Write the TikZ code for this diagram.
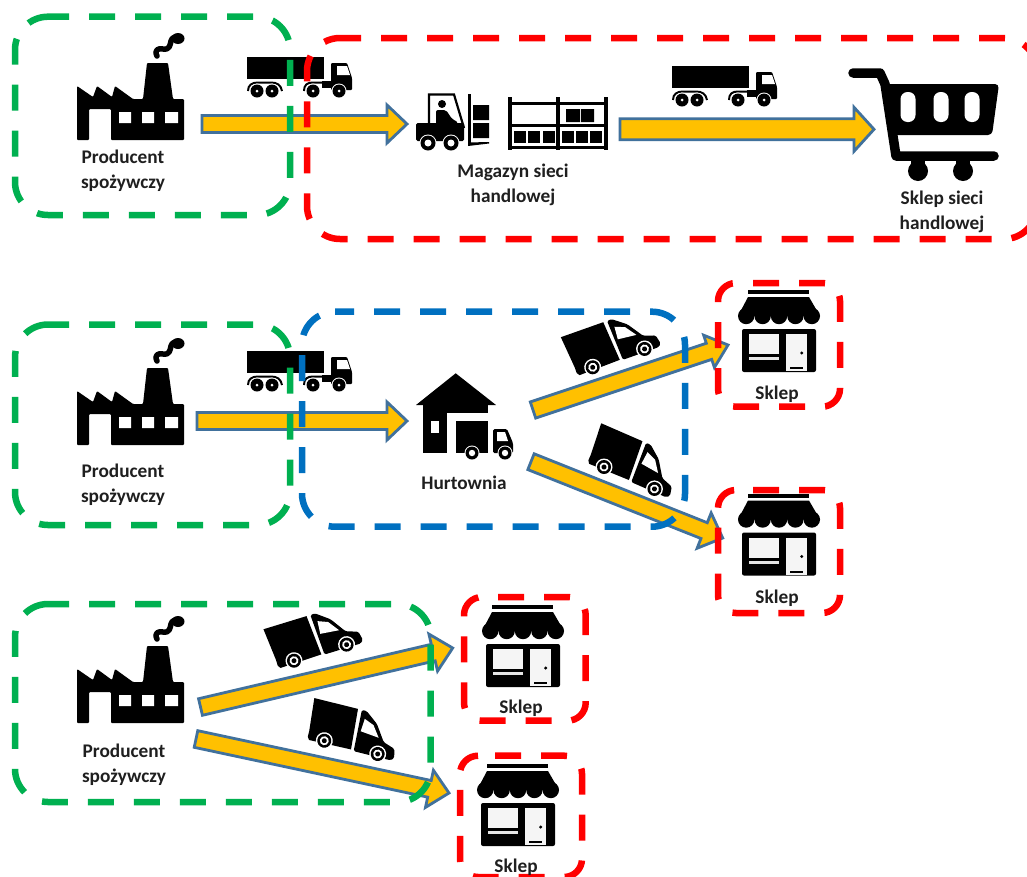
\documentclass[tikz,border=0pt]{standalone}
\usepackage{fontspec}
\setmainfont{Carlito}
\usetikzlibrary{calc}
\definecolor{gframe}{HTML}{00B050}
\definecolor{bframe}{HTML}{0070C0}
\definecolor{rframe}{HTML}{FF0000}
\definecolor{arrfill}{HTML}{FFC000}
\definecolor{arrline}{HTML}{41719C}
\tikzset{
  frameline/.style={line width=6.5pt,dash pattern=on 26pt off 20pt},
  blockarr/.style={draw=arrline,fill=arrfill,line width=2.8pt,line join=miter},
  lbl/.style={font=\bfseries\fontsize{19.3}{25}\selectfont,align=center,text=black!88,inner sep=0pt},
  factoryicon/.pic={\begin{scope}[shift={(-77,-33)}]
    \fill[black,rounded corners=1pt] (77,86) -- (93,97) -- (97,86) -- (112,97) -- (115,86) -- (133,99) -- (143,99) -- (147,63) -- (168,63) -- (173,99) -- (184,99) -- (184,140) -- (111,140) -- (111,109) -- (89,109) -- (89,140) -- (77,140) -- cycle;
    \fill[white] (119,112) rectangle (131,123) (142,112) rectangle (154,123) (165,112) rectangle (178,123);
    \draw[black,line width=5.5pt,line cap=round,line join=round] (157,56) .. controls (154,50) and (158,48) .. (163,49) .. controls (170,50) and (170,45) .. (171,41) .. controls (172,37) and (176,36) .. (180,38);
    \fill[black] (178,38.5) ellipse (6.5 and 5.5);
  \end{scope}},
  truckicon/.pic={\begin{scope}[shift={(-247,-57)}]
    \fill[black] (247,57) rectangle (324,79);
    \fill[black] (322,81) rectangle (352,88);
    \fill[black,rounded corners=1pt] (331,63) -- (347,63) -- (352,78) -- (352,90) -- (331,90) -- cycle;
    \fill[white] (337,66) -- (347,66) -- (350,75) -- (337,75) -- cycle;
    \draw[black,line width=2pt] (248,91) .. controls (248,85) and (252,82.5) .. (258,82.5) -- (271,82.5) .. controls (277,82.5) and (281,85) .. (282,91);
    \draw[black,line width=2pt] (304,91) .. controls (304,85) and (307,82.5) .. (313,82.5) -- (331,82.5);
    \foreach \wx in {257,272,313,339}{
      \fill[white] (\wx,91) circle (7.5);
      \fill[black] (\wx,91) circle (6.5);
      \fill[white] (\wx,91) circle (1.5);
    }
  \end{scope}},
  vanicon/.pic={
    \fill[black] (-20,-39) -- (25,-39) -- (28,2) -- (-15,3) -- (-17,0) -- (-17,-6) -- cycle;
    \fill[black,rounded corners=1.5pt] (29,-39) -- (34,-39) -- (47,-29) -- (58,-13) -- (70,-9) -- (72,0) -- (69,3) -- (31,3) -- cycle;
    \fill[white] (33,-18) -- (52,-16) -- (44,-27) -- (34,-31) -- cycle;
    \foreach \wx in {0,55}{
      \fill[white] (\wx,0) circle (8.5);
      \fill[black] (\wx,0) circle (7);
      \fill[white] (\wx,0) circle (4.5);
      \fill[black] (\wx,0) circle (2.5);
    }
  },
  shopicon/.pic={\begin{scope}[shift={(-738,-289)}]
    \fill[black] (748,290) rectangle (809,294);
    \fill[black] (748,297) -- (809,297) -- (820,316) -- (738,316) -- cycle;
    \foreach \cx in {746.2,762.6,779,795.4,811.8}{\fill[black] (\cx,316) circle (8.2);}
    \fill[black,rounded corners=2pt] (742,329) rectangle (816,372);
    \fill[white!96!black] (749,334) rectangle (779,354);
    \fill[white!90!black] (749,357) rectangle (779,360);
    \fill[white!96!black] (786,334) rectangle (807,371);
    \fill[black] (801.7,353) circle (1.7);
    \fill[black] (790,367) rectangle (803,369);
  \end{scope}},
}
% block arrow between two named points
\newcommand\blockarrow[4]{% from, to, shaft half width, head half width
  \coordinate (hb) at ($(#2)!20pt!(#1)$);
  \draw[blockarr] ($(#1)!#3!90:(#2)$) -- ($(hb)!#3!90:(#2)$) -- ($(hb)!#4!90:(#2)$) -- (#2) -- ($(hb)!#4!-90:(#2)$) -- ($(hb)!#3!-90:(#2)$) -- ($(#1)!#3!-90:(#2)$) -- cycle;
}
% dashed rounded frame: colour, x0, y0, x1, y1, radius, dash phase
\newcommand\dashframe[7]{%
  \draw[#1,frameline,dash phase=#7pt]
    ({#2+#6},#3) -- ({#4-#6},#3)
    .. controls ({#4-0.45*#6},#3) and (#4,{#3+0.45*#6}) .. (#4,{#3+#6})
    -- (#4,{#5-#6})
    .. controls (#4,{#5-0.45*#6}) and ({#4-0.45*#6},#5) .. ({#4-#6},#5)
    -- ({#2+#6},#5)
    .. controls ({#2+0.45*#6},#5) and (#2,{#5-0.45*#6}) .. (#2,{#5-#6})
    -- (#2,{#3+#6})
    .. controls (#2,{#3+0.45*#6}) and ({#2+0.45*#6},#3) .. ({#2+#6},#3);
}
\begin{document}
\begin{tikzpicture}[x=1pt,y=-1pt]
\useasboundingbox (0,0) rectangle (1027,876);
\fill[white] (0,0) rectangle (1027,876);

% --- icons
\pic (fa) at (77,33) {factoryicon};
\pic (fb) at (77,338) {factoryicon};
\pic (fc) at (77,616) {factoryicon};
\pic (ta) at (247,57) {truckicon};
\pic (tb) at (672,66) {truckicon};
\pic (tc) at (247,351) {truckicon};
\pic[rotate=19.5] (va) at (592.7,367.3) {vanicon};
\pic[rotate=-23.5] (vb) at (604,467) {vanicon};
\pic[rotate=17] (vc) at (294,660.7) {vanicon};
\pic[rotate=-14] (vd) at (324.3,740.7) {vanicon};
\pic (sa) at (738,289) {shopicon};
\pic (sb) at (738,492.5) {shopicon};
\pic (sc) at (482,604) {shopicon};
\pic (sd) at (477,763) {shopicon};

% forklift
\fill[black,rounded corners=1.5pt] (416,123) -- (464,123) -- (464,141) -- (416,141) -- cycle;
\draw[black,line width=2.2pt] (429,123) -- (429,94.5) -- (454,94.5) -- (464,128);
\fill[black] (442,104) circle (4);
\fill[black,rounded corners=2pt] (436,110) -- (446,110) -- (452,119) -- (458,122) -- (458,125) -- (436,125) -- cycle;
\fill[black] (468,94) rectangle (471,144);
\fill[black] (468,142.5) -- (489,142) -- (489,143.5) -- (468,146) -- cycle;
\fill[black] (473,105) rectangle (489,120) (473,123) rectangle (489,138);
\foreach \wx in {428,451}{
  \fill[white] (\wx,143) circle (8.5);
  \fill[black] (\wx,143) circle (7.5);
  \fill[white] (\wx,143) circle (3.5);
}

% shelves
\foreach \px in {510,558,606}{\fill[black] (\px-1.7,97) rectangle (\px+1.7,150);}
\foreach \py in {103,125,147}{\fill[black] (508,\py-1.5) rectangle (608,\py+1.5);}
\fill[black] (566,109) rectangle (580,122) (581,109) rectangle (594,122);
\foreach \bx in {514,528,543,562,576,590}{\fill[black] (\bx,131) rectangle (\bx+12,143);}

% warehouse
\fill[black] (455.7,373.3) -- (496,405) -- (416,405) -- cycle;
\fill[black] (423,404) rectangle (488,413);
\fill[black] (423,404) rectangle (447,453);
\fill[white] (431,421) rectangle (439,433);
\fill[black] (456,421) rectangle (488,453);
\fill[black,rounded corners=1.5pt] (493,429) -- (507,429) -- (513,443) -- (513,453) -- (493,453) -- cycle;
\fill[white] (497,432) -- (505,432) -- (508,441) -- (497,441) -- cycle;
\foreach \wx in {472,505}{
  \fill[white] (\wx,453) circle (7.5);
  \fill[black] (\wx,453) circle (6.5);
  \fill[white] (\wx,453) circle (3.2);
}

% cart
\draw[black,line width=9.5pt,line cap=round,line join=round] (853,73) -- (880,73) -- (885,84) -- (896,156) -- (994,156);
\fill[black,rounded corners=4pt] (886,84) -- (999,84) -- (992,135) -- (893,135) -- cycle;
\foreach \hx in {908,941,972}{\fill[white,rounded corners=7pt] (\hx-7.5,92) rectangle (\hx+7.5,122);}
\foreach \wx in {918,963}{
  \fill[black] (\wx,171) circle (10);
  \fill[black] (\wx-7,158) rectangle (\wx+7,168);
}

% --- connectors (block arrows)
\coordinate (a1s) at (202,124); \coordinate (a1e) at (407,124);
\coordinate (a2s) at (620,129.3); \coordinate (a2e) at (874,129.3);
\coordinate (a3s) at (197,421); \coordinate (a3e) at (407,421);
\coordinate (a4s) at (533,410); \coordinate (a4e) at (728,345);
\coordinate (a5s) at (531,461.7); \coordinate (a5e) at (722.7,538);
\coordinate (a6s) at (200.5,707); \coordinate (a6e) at (452.7,648);
\coordinate (a7s) at (196,739); \coordinate (a7e) at (449,793);
\blockarrow{a1s}{a1e}{8.5pt}{19pt}
\blockarrow{a2s}{a2e}{10.5pt}{22pt}
\blockarrow{a3s}{a3e}{8.5pt}{19pt}
\blockarrow{a4s}{a4e}{8.5pt}{17pt}
\blockarrow{a5s}{a5e}{8.5pt}{19pt}
\blockarrow{a6s}{a6e}{8.5pt}{19pt}
\blockarrow{a7s}{a7e}{8.5pt}{19pt}

% --- dashed frames
\dashframe{gframe}{15}{16.7}{290}{215}{33}{5}
\dashframe{rframe}{307}{38}{1037}{239}{33}{5}
\dashframe{gframe}{15}{324.5}{290}{525}{33}{5}
\dashframe{bframe}{302}{311.7}{685}{526.7}{33}{7}
\dashframe{gframe}{15}{604}{430.7}{802}{33}{5}
\dashframe{rframe}{718}{283}{840}{406.7}{18}{29}
\dashframe{rframe}{718}{490}{840}{613}{18}{29}
\dashframe{rframe}{464}{597}{585.7}{720.7}{18}{30}
\dashframe{rframe}{460}{755.7}{582}{877}{18}{29}

% --- labels
\node[lbl] (l1) at (123,171) {Producent\\spożywczy};
\node[lbl] (l2) at (513,185) {Magazyn sieci\\handlowej};
\node[lbl] (l3) at (942,212) {Sklep sieci\\handlowej};
\node[lbl] (l4) at (123,485) {Producent\\spożywczy};
\node[lbl] (l5) at (464,483) {Hurtownia};
\node[lbl] (l6) at (777,394) {Sklep};
\node[lbl] (l7) at (777,598) {Sklep};
\node[lbl] (l8) at (124,765) {Producent\\spożywczy};
\node[lbl] (l9) at (521,708) {Sklep};
\node[lbl] (l10) at (516,867) {Sklep};
\end{tikzpicture}
\end{document}
